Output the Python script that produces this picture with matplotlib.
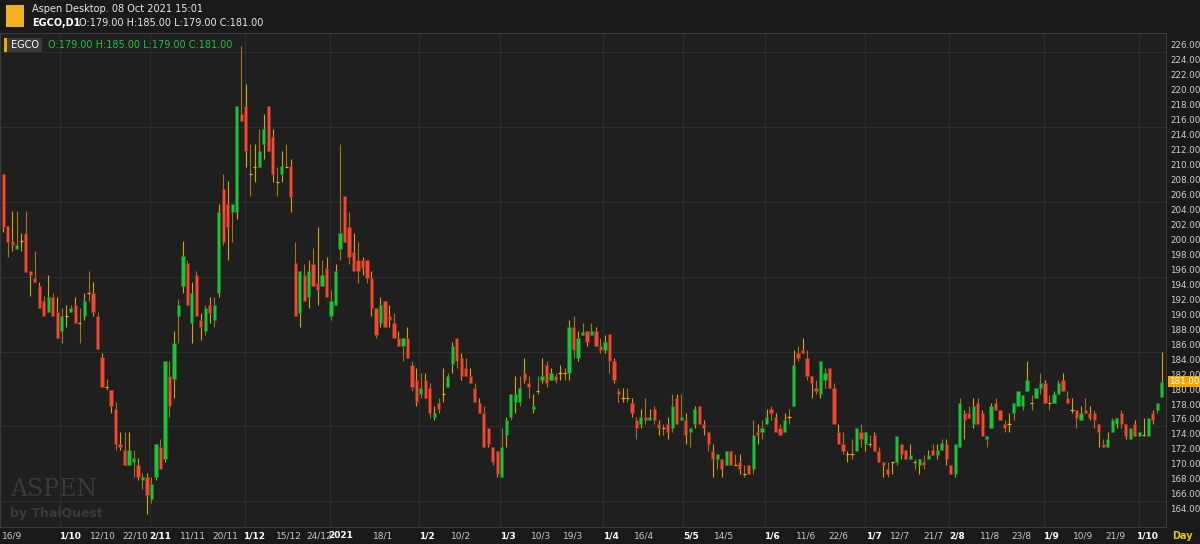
import matplotlib
matplotlib.use("Agg")
import matplotlib.pyplot as plt
from matplotlib.patches import Rectangle

opens = [208.8,201.8,199.8,198.7,199.8,200.8,195.8,194.8,193.8,191.8,190.3,192.3,190.3,187.8,189.8,190.3,191.3,188.8,189.8,192.8,
192.8,189.8,184.3,180.3,179.9,177.3,172.7,171.8,169.8,170.3,169.8,167.8,168.3,165.3,168.3,172.3,170.7,181.8,181.3,189.8,
193.8,196.8,188.8,195.3,189.2,187.8,191.2,189.2,192.8,206.8,204.8,203.7,203.7,216.8,217.8,208.8,209.7,209.7,212.8,217.8,
213.7,207.7,208.8,209.7,209.8,196.8,190.2,195.2,192.3,196.7,194.2,193.8,196.2,189.8,191.2,198.7,205.8,201.7,198.3,197.2,
197.2,197.2,194.8,190.8,188.8,191.8,189.8,188.8,186.8,185.8,186.8,183.2,181.2,179.3,181.2,180.2,176.3,178.2,179.3,180.3,
183.3,186.8,184.2,182.8,181.7,180.2,178.2,176.8,174.8,172.2,171.7,168.3,173.8,176.3,178.3,178.3,182.2,180.8,177.3,179.8,
181.2,183.2,181.2,181.7,182.2,182.2,182.2,188.3,184.2,187.2,187.8,187.2,187.8,185.8,185.2,187.3,183.8,179.8,178.8,178.8,
178.2,175.8,175.3,176.3,175.8,177.3,175.3,174.8,175.3,174.8,178.8,175.8,175.8,174.3,175.3,177.7,175.3,174.3,171.7,170.7,
170.7,169.8,171.7,169.8,170.2,168.7,169.8,169.3,174.3,174.3,175.3,177.3,176.3,174.8,174.3,176.3,177.7,184.8,185.2,184.2,
181.7,180.2,179.3,181.2,182.8,180.2,174.3,172.7,171.3,171.3,171.7,174.3,172.7,172.7,173.8,171.7,170.2,169.3,170.2,170.2,
172.7,171.8,170.7,170.2,169.8,170.2,170.7,171.8,171.2,171.8,172.7,169.8,168.7,172.3,176.8,176.8,175.3,178.2,176.8,173.3,
174.8,178.2,177.2,175.3,175.3,176.8,177.7,177.7,179.7,178.2,178.8,180.2,180.8,178.2,178.2,179.3,181.2,178.8,177.2,177.2,
175.8,177.2,176.8,176.8,175.3,172.7,172.3,174.2,175.3,176.8,175.3,173.3,175.3,173.7,173.9,173.7,176.8,177.2,179.0]
highs = [208.8,201.8,203.8,203.8,200.8,203.8,195.8,198.4,194.3,192.4,195.2,192.8,192.3,190.8,191.3,191.3,192.3,190.8,192.8,195.8,
194.3,190.3,184.8,181.3,179.9,178.3,174.3,174.3,174.3,171.8,170.8,168.8,168.8,168.3,172.7,173.3,183.8,183.8,187.8,192.0,
199.8,197.3,194.3,195.8,190.2,191.2,192.3,192.3,204.8,208.8,207.8,204.7,217.8,225.8,220.8,212.8,212.8,214.8,216.8,217.8,
214.8,209.7,211.8,212.8,210.8,199.7,195.8,196.7,197.2,198.8,201.7,197.2,197.7,193.2,196.7,212.8,205.8,203.7,200.8,199.7,
197.7,197.2,195.8,190.8,192.3,191.8,191.2,190.2,187.8,186.8,188.3,183.8,182.8,182.2,182.2,180.8,177.7,178.8,182.8,182.2,
186.3,186.8,184.8,184.2,182.8,180.8,178.8,177.7,174.8,172.2,171.7,174.8,176.3,179.3,181.7,181.7,184.2,181.7,179.3,181.7,
184.2,183.8,182.8,182.2,183.2,182.8,189.2,189.8,187.8,188.8,187.8,188.8,188.3,186.8,187.2,187.3,184.2,180.2,180.2,180.2,
178.8,176.3,177.3,178.8,177.3,177.7,175.8,175.3,176.3,179.3,179.3,179.3,176.8,174.8,177.7,177.7,175.8,174.3,172.7,171.3,
170.7,171.7,171.7,171.3,171.3,169.8,169.8,175.8,175.3,175.8,177.3,177.7,176.8,175.3,176.8,177.3,185.2,185.8,186.8,185.2,
181.7,181.2,183.8,182.8,182.8,180.8,175.3,174.3,171.7,173.3,174.8,175.3,174.3,173.8,174.3,172.2,170.2,170.2,170.2,173.7,
172.7,171.8,172.7,170.7,170.7,171.2,171.8,172.7,172.7,173.3,173.3,169.8,172.7,178.8,177.2,177.8,178.8,178.8,177.2,173.7,
178.2,178.8,177.2,175.8,176.8,178.2,179.8,179.2,183.8,179.2,180.2,182.2,181.2,179.2,179.7,181.2,182.2,179.7,178.8,177.2,
177.7,178.8,177.7,177.2,175.3,173.3,174.2,176.2,176.2,177.2,175.3,174.8,175.8,174.2,176.2,176.2,177.2,177.7,185.0]
lows = [201.0,197.7,198.4,198.7,198.4,195.7,192.4,194.3,190.8,189.8,190.3,189.8,186.8,186.2,188.3,190.3,188.8,186.2,189.2,191.8,
189.8,185.3,180.3,179.9,176.8,171.9,171.9,169.8,169.8,168.3,167.8,166.7,163.3,164.8,167.8,169.3,170.2,176.3,178.8,186.2,
192.8,191.3,186.2,189.8,186.6,187.2,188.8,188.3,192.3,199.2,197.3,199.7,202.8,215.8,209.7,205.8,207.7,209.7,210.8,211.8,
207.7,205.8,207.7,209.7,203.7,189.8,188.3,191.8,190.8,193.8,191.2,193.8,192.3,189.2,191.2,197.2,199.7,196.7,195.8,194.2,
195.2,194.2,189.8,186.8,188.3,188.3,188.3,186.8,185.8,183.8,184.2,179.8,177.8,178.8,178.8,176.2,175.8,176.8,178.3,180.3,
182.2,182.8,181.2,181.7,180.8,178.3,176.8,172.3,172.3,169.8,168.3,168.3,172.3,175.8,176.8,177.7,180.8,178.8,176.8,179.3,
180.8,180.3,181.2,180.8,181.2,181.2,181.2,184.2,183.8,187.2,185.8,187.2,185.8,184.8,184.8,182.2,180.8,178.3,178.3,178.3,
176.3,173.3,174.8,175.3,175.8,175.3,173.8,173.8,173.3,174.3,175.3,175.8,172.7,172.3,174.8,175.3,173.8,171.7,168.3,169.3,
168.3,169.8,169.8,169.8,168.7,168.3,168.7,168.7,172.7,173.3,175.3,175.8,174.3,173.8,174.3,175.3,177.7,183.8,184.8,181.2,
178.8,179.3,178.8,180.2,180.2,175.3,172.7,171.3,170.3,170.7,171.7,172.3,171.7,172.3,171.7,170.2,168.3,168.3,168.7,169.8,
170.7,170.7,170.7,169.3,168.7,169.3,170.7,171.2,170.7,171.8,169.8,168.7,168.3,172.3,173.3,176.2,174.8,175.3,173.7,172.3,
174.8,177.2,175.8,174.2,174.2,175.8,177.7,177.2,179.7,177.2,178.8,179.3,178.2,177.2,178.2,179.3,179.7,178.2,176.8,174.8,
175.8,176.8,175.8,174.8,172.3,172.3,172.3,174.2,174.8,174.8,173.3,173.3,173.7,173.7,173.7,173.7,175.3,176.8,179.0]
closes = [201.7,199.7,199.3,199.3,199.8,195.7,195.3,194.3,190.8,189.8,192.3,189.8,186.8,189.8,189.8,190.8,188.8,188.8,191.8,192.8,
190.3,185.3,180.3,180.3,177.8,172.7,172.3,169.8,171.8,170.8,168.3,168.3,165.8,167.3,172.7,169.3,183.8,177.8,186.2,191.3,
197.8,191.3,192.8,189.8,188.3,190.8,190.2,191.2,203.7,199.7,201.7,204.7,217.8,215.8,211.8,208.8,209.7,211.8,214.8,211.8,
208.8,207.7,209.8,209.7,205.7,189.8,195.8,191.8,195.8,193.8,193.2,195.2,192.3,191.8,195.8,200.8,199.7,197.7,195.8,195.8,
196.2,194.8,190.8,187.2,191.2,188.3,189.3,186.8,185.8,186.8,184.2,180.3,178.3,180.2,178.8,176.8,176.8,177.3,179.3,181.7,
185.8,183.8,181.7,181.7,180.8,178.3,176.8,172.3,172.7,170.2,168.7,172.2,175.8,179.3,179.3,180.2,181.2,180.3,177.8,179.8,
181.7,180.8,182.2,181.2,182.2,182.2,188.3,185.2,186.8,187.6,186.3,187.8,185.8,185.2,186.3,183.8,181.2,179.3,178.8,178.8,
176.8,174.8,176.3,175.8,176.3,175.8,174.8,174.8,174.3,177.7,175.3,176.3,173.8,174.8,177.3,175.3,174.8,172.7,170.7,171.3,
169.3,171.7,169.8,169.8,169.3,168.7,168.7,173.8,173.8,174.8,176.3,176.8,174.3,173.8,175.8,176.3,183.2,184.2,184.8,181.7,
180.8,179.8,183.8,182.2,180.2,175.3,172.7,171.7,171.3,171.3,174.8,173.3,174.3,172.7,171.7,170.2,169.8,168.7,170.2,173.7,
171.3,170.7,171.2,170.2,170.7,169.8,171.2,171.2,171.8,172.8,170.7,168.7,172.7,178.2,175.8,176.2,177.7,175.3,173.7,173.7,
177.7,177.2,175.8,174.8,175.3,178.2,179.8,179.2,181.2,178.2,180.2,180.8,178.2,178.2,179.3,180.8,179.7,178.2,177.2,176.2,
176.8,176.8,176.2,175.8,174.2,172.3,173.3,175.8,176.2,175.3,173.7,174.8,173.7,174.2,173.9,176.2,175.8,178.2,181.0]

date_labels = ["16/9","1/10","12/10","22/10","2/11","11/11","20/11","1/12","15/12","24/12","2021","18/1","1/2","10/2",
               "1/3","10/3","19/3","1/4","16/4","5/5","14/5","1/6","11/6","22/6","1/7","12/7","21/7","2/8","11/8",
               "23/8","1/9","10/9","21/9","1/10"]
label_px = [12,70,103,135,160,193,225,254,289,319,341,383,427,461,508,541,573,611,644,691,724,772,806,838,874,900,933,
            957,990,1021,1051,1083,1115,1147]
bold_labels = {"1/10","2/11","1/12","2021","1/2","1/3","1/4","5/5","1/6","1/7","2/8","1/9"}
month_px = [60,150,245,330,419,500,603,683,765,865,949,1044,1139]

BG = "#1f1f1f"
GRID = "#2e2e2e"
GREEN = "#1ec23a"
RED = "#f04b32"
W, H = 1200, 544
fig = plt.figure(figsize=(12, 5.44), dpi=100, facecolor="#1a1a1a")
x0, x1 = 0, 1166
y_top, y_bot = 33, 527
ax = fig.add_axes([x0 / W, 1 - y_bot / H, (x1 - x0) / W, (y_bot - y_top) / H], facecolor=BG)

step = 4.49
off = 3.3
def px2i(px):
    return (px - off) / step

n = len(closes)
ax.set_xlim(px2i(0), px2i(x1))
ax.set_ylim(226 - (y_bot - 45) / 7.48, 226 + (45 - y_top) / 7.48)
for v in range(165, 230, 10):
    ax.axhline(v, color=GRID, lw=0.8, zorder=0)
for p in month_px:
    ax.axvline(px2i(p), color=GRID, lw=0.8, zorder=0)

bw = 0.72
for i in range(n):
    o, h, l, c = opens[i], highs[i], lows[i], closes[i]
    col = GREEN if c > o else (RED if c < o else "#e8b000")
    wick = "#d9a400" if i % 2 == 0 else "#a07818"
    ax.vlines(i, l, h, color=wick, lw=0.8, zorder=1)
    if c == o:
        ax.hlines(c, i - bw / 2, i + bw / 2, color="#e8b000", lw=0.9, zorder=2)
    else:
        ax.add_patch(Rectangle((i - bw / 2, min(o, c)), bw, abs(c - o), facecolor=col,
                               edgecolor="#8a2a1a" if c < o else "#0f7a25", lw=0.4, zorder=2))

ax.set_xticks([])
ax.yaxis.tick_right()
ax.set_yticks(range(164, 227, 2))
ax.set_yticklabels([f"{v:.2f}" for v in range(164, 227, 2)], fontsize=6.3, color="#d0d0d0")
ax.tick_params(axis="y", length=0, pad=3)
for s in ax.spines.values():
    s.set_color("#3a3a3a")

# x labels
for lab, px in zip(date_labels, label_px):
    fig.text(px / W, 1 - 536 / H, lab, ha="center", va="center", fontsize=6.5,
             color="#ffffff" if lab in bold_labels else "#c8c8c8",
             fontweight="bold" if lab in bold_labels else "normal")
fig.text(1182 / W, 1 - 536 / H, "Day", ha="center", va="center", fontsize=7, color="#e8c800", fontweight="bold")

# last price marker
ylo, yhi = ax.get_ylim()
ax.text(1.003, (181 - ylo) / (yhi - ylo), "181.00",
        transform=ax.transAxes, fontsize=6.3, color="#ffffff", va="center", ha="left",
        bbox=dict(boxstyle="square,pad=0.15", fc="#f0a800", ec="none"))

# header
fig.patches.append(Rectangle((0, 1 - 33 / H), 1, 33 / H, transform=fig.transFigure, fc="#1a1a1a", ec="none"))
fig.patches.append(Rectangle((6 / W, 1 - 27 / H), 18 / W, 22 / H, transform=fig.transFigure, fc="#f0b020", ec="none"))
fig.text(32 / W, 1 - 9 / H, "Aspen Desktop. 08 Oct 2021 15:01", fontsize=7, color="#e8e8e8", va="center")
fig.text(32 / W, 1 - 23 / H, "EGCO,D1", fontsize=7, color="#ffffff", va="center", fontweight="bold")
fig.text(79 / W, 1 - 23 / H, "O:179.00 H:185.00 L:179.00 C:181.00", fontsize=7, color="#e8e8e8", va="center")

# legend
fig.patches.append(Rectangle((4 / W, 1 - 52 / H), 38 / W, 14 / H, transform=fig.transFigure, fc="#3a3a3a", ec="none"))
fig.patches.append(Rectangle((4 / W, 1 - 52 / H), 2.5 / W, 14 / H, transform=fig.transFigure, fc="#f0a800", ec="none"))
fig.text(11 / W, 1 - 45 / H, "EGCO", fontsize=7, color="#ffffff", va="center")
fig.text(48 / W, 1 - 45 / H, "O:179.00 H:185.00 L:179.00 C:181.00", fontsize=7, color="#1ec23a", va="center")

# watermark
fig.text(10 / W, 1 - 490 / H, "ASPEN", fontsize=17, color="#3a3a3a", va="center", family="DejaVu Serif")
fig.text(10 / W, 1 - 513 / H, "by ThaiQuest", fontsize=9, color="#3a3a3a", va="center", fontweight="bold")

fig.savefig("out.png", dpi=100, facecolor=fig.get_facecolor())
